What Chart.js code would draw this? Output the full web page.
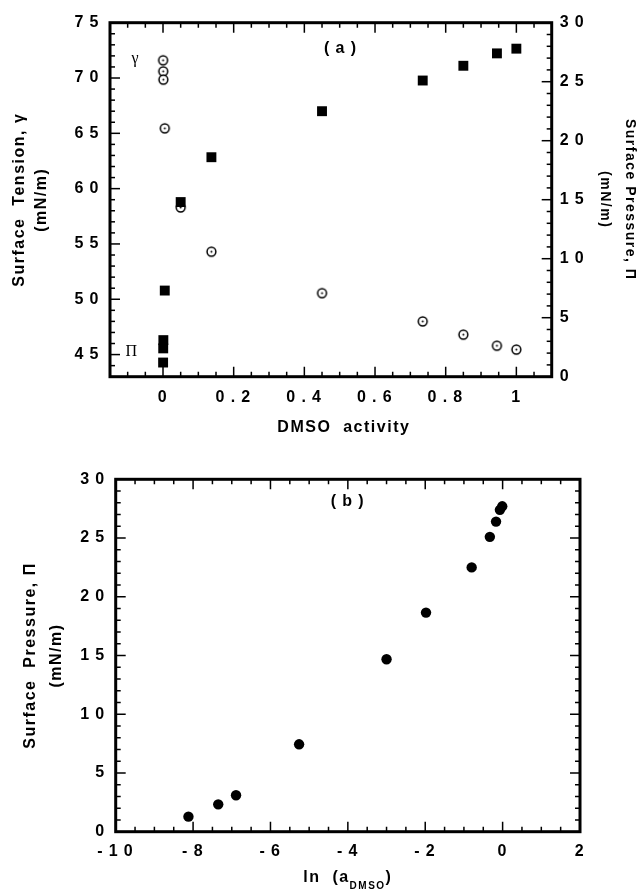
<!DOCTYPE html>
<html><head><meta charset="utf-8">
<script src="https://cdn.jsdelivr.net/npm/chart.js@4/dist/chart.umd.min.js"></script>
<style>
html,body{margin:0;padding:0;background:#fff;}
#wrap{position:relative;width:643px;height:890px;overflow:hidden;background:#fff;}
canvas{position:absolute;left:0;}
#c1{top:0;} #c2{top:450px;}
</style></head><body>
<div id="wrap"><canvas id="c1" width="643" height="450"></canvas><canvas id="c2" width="643" height="440"></canvas></div>
<script>
// ---- data ----
const activity = [0.0003, 0.0006, 0.001, 0.005, 0.05, 0.137, 0.45, 0.735, 0.85, 0.945, 1.0];
const surfaceTension = [71.6, 70.6, 69.85, 65.45, 58.3, 54.3, 50.55, 48.0, 46.8, 45.8, 45.45];
const surfacePressureA = [1.2, 2.4, 3.1, 7.3, 14.8, 18.6, 22.5, 25.1, 26.35, 27.4, 27.8];
const lnActivity = [-8.12, -7.35, -6.89, -5.26, -3.0, -1.98, -0.8, -0.33, -0.17, -0.07, -0.01];
const surfacePressureB = [1.28, 2.33, 3.1, 7.44, 14.68, 18.65, 22.5, 25.1, 26.4, 27.4, 27.7];

const xTicksA = [0, 0.2, 0.4, 0.6, 0.8, 1];
const xTickLabelsA = ['0', '0.2', '0.4', '0.6', '0.8', '1'];
const gammaTicks = [45, 50, 55, 60, 65, 70, 75];
const gammaTickLabels = ['45', '50', '55', '60', '65', '70', '75'];
const piTicks = [0, 5, 10, 15, 20, 25, 30];
const piTickLabels = ['0', '5', '10', '15', '20', '25', '30'];
const xTicksB = [-10, -8, -6, -4, -2, 0, 2];
const xTickLabelsB = ['-10', '-8', '-6', '-4', '-2', '0', '2'];

// ---- helpers ----
const SANS = '"Liberation Sans", Arial, Helvetica, sans-serif';
const SERIF = '"Liberation Serif", "DejaVu Serif", serif';
const spaced = s => s.split('').join('\u2009');

function circleDot() {
  const c = document.createElement('canvas');
  c.width = 13; c.height = 13;
  const g = c.getContext('2d');
  g.fillStyle = '#fff'; g.strokeStyle = '#000'; g.lineWidth = 1.5;
  g.beginPath(); g.arc(6.5, 6.5, 4.4, 0, Math.PI * 2); g.fill(); g.stroke();
  g.fillStyle = '#000';
  g.beginPath(); g.arc(6.5, 6.5, 1.0, 0, Math.PI * 2); g.fill();
  return c;
}

const spacingPlugin = {
  id: 'spacing',
  beforeDraw(chart) { chart.ctx.letterSpacing = '1.5px'; }
};

const frameTicks = {
  id: 'frameTicks',
  afterDraw(chart, args, opts) {
    const {ctx, chartArea: a} = chart;
    ctx.save();
    ctx.strokeStyle = '#000';
    ctx.lineWidth = 1.5;
    for (const spec of opts.axes) {
      const s = chart.scales[spec.id];
      const n = Math.round((s.max - s.min) / spec.minor);
      for (let k = 0; k <= n; k++) {
        const v = s.min + k * spec.minor;
        const major = s.ticks.some(t => Math.abs(t.value - v) < 1e-6);
        const len = major ? 10 : 5;
        const p = s.getPixelForValue(v);
        ctx.beginPath();
        for (const side of spec.sides) {
          if (side === 'bottom') { ctx.moveTo(p, a.bottom); ctx.lineTo(p, a.bottom - len); }
          if (side === 'top') { ctx.moveTo(p, a.top); ctx.lineTo(p, a.top + len); }
          if (side === 'left') { ctx.moveTo(a.left, p); ctx.lineTo(a.left + len, p); }
          if (side === 'right') { ctx.moveTo(a.right, p); ctx.lineTo(a.right - len, p); }
        }
        ctx.stroke();
      }
    }
    ctx.lineWidth = 3;
    ctx.strokeRect(a.left, a.top, a.right - a.left, a.bottom - a.top);
    // text annotations placed in data coordinates
    ctx.fillStyle = '#000';
    ctx.textAlign = 'center';
    ctx.textBaseline = 'middle';
    for (const t of (opts.texts || [])) {
      ctx.font = t.font;
      ctx.fillText(t.text, chart.scales[t.xs].getPixelForValue(t.x), chart.scales[t.ys].getPixelForValue(t.y));
    }
    ctx.restore();
  }
};

function tickFont() { return {family: SANS, size: 16, weight: 'bold'}; }

function linAxis(extra) {
  return Object.assign({
    type: 'linear',
    grid: {display: false, drawTicks: false},
    border: {display: false},
  }, extra);
}

// ---- chart (a) ----
const titleA = {
  id: 'titleA',
  afterDraw(chart) {
    const {ctx, chartArea: a} = chart;
    ctx.save();
    ctx.fillStyle = '#000';
    ctx.font = 'bold 16px ' + SANS;
    ctx.textAlign = 'center';
    ctx.textBaseline = 'alphabetic';
    ctx.fillText('DMSO  activity', (a.left + a.right) / 2 + 13, a.bottom + 55.5);
    ctx.restore();
  }
};

new Chart(document.getElementById('c1'), {
  type: 'scatter',
  data: {
    datasets: [
      {
        label: 'Π',
        data: activity.map((x, i) => ({x: x, y: surfacePressureA[i]})),
        yAxisID: 'y2', pointStyle: 'rect', pointRadius: 7,
        backgroundColor: '#000', borderWidth: 0, clip: false
      },
      {
        label: 'γ',
        data: activity.map((x, i) => ({x: x, y: surfaceTension[i]})),
        yAxisID: 'y', pointStyle: circleDot(), pointRadius: 5, clip: false
      }
    ]
  },
  options: {
    responsive: false, animation: false, devicePixelRatio: 1,
    layout: {padding: {top: 22.7, left: 0, right: 0, bottom: 0}},
    plugins: {
      legend: {display: false}, tooltip: {enabled: false},
      frameTicks: {
        axes: [
          {id: 'x', minor: 0.05, sides: ['bottom', 'top']},
          {id: 'y', minor: 1, sides: ['left']},
          {id: 'y2', minor: 1, sides: ['right']}
        ],
        texts: [
          {text: spaced('(a)'), x: 0.503, y: 72.7, xs: 'x', ys: 'y', font: 'bold 16px ' + SANS},
          {text: 'γ', x: -0.077, y: 71.75, xs: 'x', ys: 'y', font: '16px ' + SERIF},
          {text: 'Π', x: -0.088, y: 45.25, xs: 'x', ys: 'y', font: '16px ' + SERIF}
        ]
      }
    },
    scales: {
      x: linAxis({
        position: 'bottom', min: -0.15, max: 1.1,
        afterBuildTicks: s => { s.ticks = xTicksA.map(v => ({value: v})); },
        afterFit: s => { s.height = 73.3; },
        ticks: {padding: 11, color: '#000', font: tickFont(), autoSkip: false, maxRotation: 0,
          callback: (v, i) => spaced(xTickLabelsA[i])}
      }),
      y: linAxis({
        position: 'left', min: 43, max: 75,
        afterBuildTicks: s => { s.ticks = gammaTicks.map(v => ({value: v})); },
        afterFit: s => { s.width = 110; },
        ticks: {padding: 10, color: '#000', font: tickFont(), autoSkip: false,
          callback: (v, i) => spaced(gammaTickLabels[i])},
        title: {display: true, text: ['Surface  Tension, γ', '(mN/m)'], color: '#000',
          padding: {top: 9, bottom: 0},
          font: {family: SANS, size: 16, weight: 'bold', lineHeight: 1.375}}
      }),
      y2: linAxis({
        position: 'right', min: 0, max: 30,
        afterBuildTicks: s => { s.ticks = piTicks.map(v => ({value: v})); },
        afterFit: s => { s.width = 91.3; },
        ticks: {padding: 8, color: '#000', font: tickFont(), autoSkip: false,
          callback: (v, i) => spaced(piTickLabels[i])},
        title: {display: true, text: ['Surface Pressure, Π', '(mN/m)'], color: '#000',
          padding: {top: 0, bottom: 0},
          font: {family: SANS, size: 14, weight: 'bold', lineHeight: 1.82}}
      })
    }
  },
  plugins: [spacingPlugin, frameTicks, titleA]
});

// ---- chart (b) ----
const titleB = {
  id: 'titleB',
  afterDraw(chart) {
    const {ctx, chartArea: a} = chart;
    ctx.save();
    ctx.fillStyle = '#000';
    ctx.textAlign = 'left';
    ctx.textBaseline = 'alphabetic';
    const mainFont = 'bold 16px ' + SANS, subFont = 'bold 10px ' + SANS;
    const p1 = 'ln  (a', p2 = 'DMSO', p3 = ')';
    ctx.font = mainFont; const w1 = ctx.measureText(p1).width, w3 = ctx.measureText(p3).width;
    ctx.font = subFont; const w2 = ctx.measureText(p2).width;
    let x = (a.left + a.right) / 2 - (w1 + w2 + w3) / 2;
    const base = a.bottom + 50.3;
    ctx.font = mainFont; ctx.fillText(p1, x, base); x += w1;
    ctx.font = subFont; ctx.fillText(p2, x, base + 6.5); x += w2;
    ctx.font = mainFont; ctx.fillText(p3, x, base);
    ctx.restore();
  }
};

new Chart(document.getElementById('c2'), {
  type: 'scatter',
  data: {
    datasets: [{
      label: 'Π',
      data: lnActivity.map((x, i) => ({x: x, y: surfacePressureB[i]})),
      pointStyle: 'circle', pointRadius: 5.2,
      backgroundColor: '#000', borderWidth: 0, clip: false
    }]
  },
  options: {
    responsive: false, animation: false, devicePixelRatio: 1,
    layout: {padding: {top: 29.3, left: 0, right: 63, bottom: 0}},
    plugins: {
      legend: {display: false}, tooltip: {enabled: false},
      frameTicks: {
        axes: [
          {id: 'x', minor: 0.5, sides: ['bottom', 'top']},
          {id: 'y', minor: 1, sides: ['left', 'right']}
        ],
        texts: [
          {text: spaced('(b)'), x: -4.0, y: 28.1, xs: 'x', ys: 'y', font: 'bold 16px ' + SANS}
        ]
      }
    },
    scales: {
      x: linAxis({
        position: 'bottom', min: -10, max: 2,
        afterBuildTicks: s => { s.ticks = xTicksB.map(v => ({value: v})); },
        afterFit: s => { s.height = 58.3; },
        ticks: {padding: 10, color: '#000', font: tickFont(), autoSkip: false, maxRotation: 0,
          callback: (v, i) => spaced(xTickLabelsB[i])}
      }),
      y: linAxis({
        position: 'left', min: 0, max: 30,
        afterBuildTicks: s => { s.ticks = piTicks.map(v => ({value: v})); },
        afterFit: s => { s.width = 115.7; },
        ticks: {padding: 10, color: '#000', font: tickFont(), autoSkip: false,
          callback: (v, i) => spaced(piTickLabels[i])},
        title: {display: true, text: ['Surface  Pressure, Π', '(mN/m)'], color: '#000',
          padding: {top: 18, bottom: 0},
          font: {family: SANS, size: 16, weight: 'bold', lineHeight: 1.625}}
      })
    }
  },
  plugins: [spacingPlugin, frameTicks, titleB]
});
</script>
</body></html>
